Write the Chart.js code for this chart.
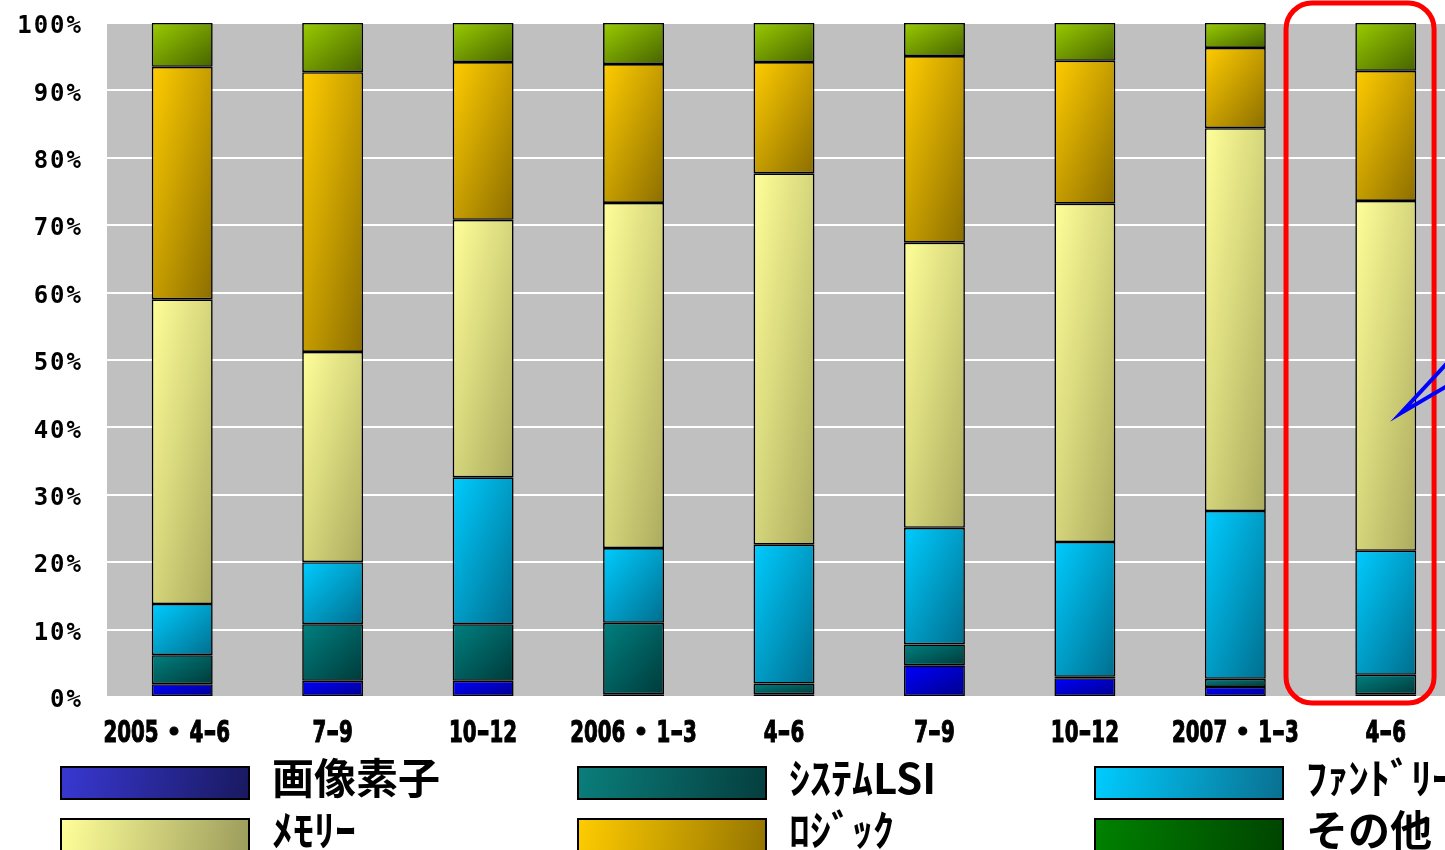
<!DOCTYPE html>
<html><head><meta charset="utf-8">
<script src="https://cdn.jsdelivr.net/npm/chart.js@4"></script>
<style>
html,body{margin:0;padding:0;background:#fff;overflow:hidden;width:1445px;height:850px}
#wrap{position:absolute;left:0;top:0;width:1470px;height:880px}
</style>
</head><body><div id="wrap"><canvas id="c" width="1470" height="880"></canvas></div>
<script>
// ---- data ----
const categories = ['2005・4-6　','7-9','10-12','2006・1-3','4-6','7-9','10-12','2007・1-3','4-6'];
const seriesNames = ['画像素子','ｼｽﾃﾑLSI','ﾌｧﾝﾄﾞﾘｰ','ﾒﾓﾘｰ','ﾛｼﾞｯｸ','その他'];
const imageSensor = [1.9, 2.4, 2.4, 0.4, 0.4, 4.7, 2.8, 1.5, 0.4];
const systemLSI   = [4.3, 8.4, 8.4, 10.6, 1.6, 3.1, 0.2, 1.2, 2.9];
const foundry     = [7.6, 9.2, 21.8, 11.1, 20.6, 17.3, 20.0, 24.9, 18.4];
const memory      = [45.2, 31.2, 38.2, 51.2, 55.1, 42.3, 50.2, 56.8, 51.9];
const logic       = [34.5, 41.5, 23.4, 20.6, 16.5, 27.7, 21.2, 11.9, 19.3];
const others      = [6.5, 7.3, 5.8, 6.1, 5.8, 4.9, 5.6, 3.7, 7.1];
const yTickValues = [0,10,20,30,40,50,60,70,80,90,100];

// ---- styles ----
const barColors = [
  ['#0000FF','#00008A'],
  ['#008080','#003A3A'],
  ['#00CCFF','#006E8E'],
  ['#FFFF99','#ABAB5E'],
  ['#FFCC00','#8C6E00'],
  ['#99CC00','#476300']
];
const legendColors = [
  ['#3838D2','#191960'],
  ['#0A7E7B','#053E3E'],
  ['#00CCFF','#0A7090'],
  ['#FFFF99','#9C9C5C'],
  ['#FFCC00','#957500'],
  ['#008200','#004400']
];
const BAR_FRAC = 0.405;

function segGradient(light, dark) {
  return (ctx) => {
    const chart = ctx.chart;
    const xs = chart.scales.x, ys = chart.scales.y;
    if (!xs || !ys || !chart.chartArea || ctx.type !== 'data') return light;
    const i = ctx.dataIndex, d = ctx.datasetIndex;
    let base = 0;
    for (let k = 0; k < d; k++) base += chart.data.datasets[k].data[i];
    const v = chart.data.datasets[d].data[i];
    const cx = xs.getPixelForValue(i);
    const w = (xs.getPixelForValue(1) - xs.getPixelForValue(0)) * BAR_FRAC;
    const x0 = cx - w / 2;
    const y0 = ys.getPixelForValue(base + v);
    const y1 = ys.getPixelForValue(base);
    const h = Math.max(1, y1 - y0);
    const L2 = w * w + h * h;
    const g = chart.ctx.createLinearGradient(x0, y0, x0 + 2 * w * h * h / L2, y0 + 2 * w * w * h / L2);
    g.addColorStop(0, light);
    g.addColorStop(1, dark);
    return g;
  };
}

const seriesData = [imageSensor, systemLSI, foundry, memory, logic, others];
const datasets = seriesNames.map((name, k) => ({
  label: name,
  data: seriesData[k],
  backgroundColor: segGradient(barColors[k][0], barColors[k][1]),
  borderColor: '#000000',
  borderWidth: 1.6,
  borderSkipped: false,
  categoryPercentage: 1,
  barPercentage: BAR_FRAC
}));

const bgPlugin = {
  id: 'bg',
  beforeDraw(chart) {
    const {ctx, chartArea: a} = chart;
    ctx.save();
    ctx.fillStyle = '#C0C0C0';
    ctx.fillRect(a.left, a.top, a.right - a.left, a.bottom - a.top);
    ctx.restore();
  }
};

const annoPlugin = {
  id: 'anno',
  afterDatasetsDraw(chart) {
    const {ctx, chartArea: a} = chart;
    const xs = chart.scales.x, ys = chart.scales.y;
    const last = categories.length - 1;
    const cx = xs.getPixelForValue(last);
    const step = xs.getPixelForValue(1) - xs.getPixelForValue(0);
    const l = cx - 0.663 * step, r = cx + 0.321 * step;
    const t = a.top - 20, b = a.bottom + 6;
    ctx.save();
    ctx.strokeStyle = '#FF0000';
    ctx.lineWidth = 5;
    ctx.beginPath();
    ctx.roundRect(l, t, r - l, b - t, 26);
    ctx.stroke();
    // callout pointer (from a balloon outside the picture)
    const vx = cx + 15, vy = ys.getPixelForValue(42.1);
    ctx.strokeStyle = '#0000FF';
    ctx.lineWidth = 4;
    ctx.lineJoin = 'miter';
    ctx.miterLimit = 20;
    ctx.beginPath();
    ctx.moveTo(vx + 85, vy - 92);
    ctx.lineTo(vx, vy);
    ctx.lineTo(vx + 85, vy - 50);
    ctx.stroke();
    ctx.restore();
  }
};

function isWide(ch) { return ch.charCodeAt(0) > 0x2000; }

function drawCondensed(ctx, text, cx, cy, sx) {
  // digits condensed, dash and full-width characters kept at full width
  const parts = [...text].map(ch => {
    const full = isWide(ch) || ch === '-';
    const w = ctx.measureText(ch).width * (full ? 1 : sx);
    return { ch, w, full };
  });
  const total = parts.reduce((s, p) => s + p.w, 0);
  let x = cx - total / 2;
  parts.forEach(p => {
    ctx.save();
    ctx.translate(x, cy);
    if (!p.full) ctx.scale(sx, 1);
    ctx.fillText(p.ch, 0, 0);
    ctx.strokeText(p.ch, 0, 0);
    ctx.restore();
    x += p.w;
  });
}

const labelPlugin = {
  id: 'labels',
  afterDraw(chart) {
    const ctx = chart.ctx;
    const xs = chart.scales.x, ys = chart.scales.y, a = chart.chartArea;
    ctx.save();
    ctx.fillStyle = '#000';
    ctx.strokeStyle = '#000';
    // y tick labels
    ctx.font = "bold 24px 'DejaVu Sans Mono'";
    ctx.letterSpacing = '2px';
    ctx.textAlign = 'right';
    ctx.textBaseline = 'middle';
    yTickValues.forEach(v => {
      ctx.fillText(v + '%', a.left - 24, ys.getPixelForValue(v) + 4);
    });
    ctx.letterSpacing = '0px';
    // x category labels (condensed)
    ctx.font = "bold 31px 'DejaVu Sans', 'Noto Sans CJK JP'";
    ctx.textAlign = 'left';
    ctx.textBaseline = 'middle';
    ctx.lineWidth = 1.2;
    categories.forEach((c, i) => {
      drawCondensed(ctx, c, xs.getPixelForValue(i), a.bottom + 37, 0.64);
    });
    ctx.restore();
  }
};

const legendPlugin = {
  id: 'customLegend',
  afterDraw(chart) {
    const ctx = chart.ctx;
    const colX = [61, 578, 1095];
    const rowY = [767, 819];
    const sw = 188, sh = 32;
    ctx.save();
    ctx.letterSpacing = '0px';
    seriesNames.forEach((name, k) => {
      const x = colX[k % 3], y = rowY[Math.floor(k / 3)];
      const g = ctx.createLinearGradient(x, y, x + sw, y + sh);
      g.addColorStop(0, legendColors[k][0]);
      g.addColorStop(1, legendColors[k][1]);
      ctx.fillStyle = g;
      ctx.fillRect(x, y, sw, sh);
      ctx.strokeStyle = '#000';
      ctx.lineWidth = 2;
      ctx.strokeRect(x, y, sw, sh);
      ctx.fillStyle = '#000';
      ctx.font = "bold 42px 'Noto Sans CJK JP'";
      ctx.textBaseline = 'middle';
      ctx.textAlign = 'left';
      ctx.fillText(name, x + sw + 23, y + sh / 2 - 5);
    });
    ctx.restore();
  }
};

new Chart(document.getElementById('c'), {
  type: 'bar',
  data: { labels: categories, datasets },
  options: {
    responsive: false,
    devicePixelRatio: 1,
    animation: false,
    layout: { padding: { top: 23, right: 9, bottom: 123, left: 0 } },
    plugins: { legend: { display: false }, tooltip: { enabled: false } },
    scales: {
      x: {
        stacked: true,
        grid: { display: false },
        border: { display: false },
        ticks: { display: false },
        afterFit(s) { s.height = 60; }
      },
      y: {
        stacked: true,
        min: 0, max: 100,
        afterBuildTicks(s) { s.ticks = yTickValues.map(v => ({ value: v })); },
        grid: { color: '#FFFFFF', lineWidth: 2, drawTicks: false },
        border: { display: false },
        ticks: { display: false },
        afterFit(s) { s.width = 107; }
      }
    }
  },
  plugins: [bgPlugin, annoPlugin, labelPlugin, legendPlugin]
});
</script>
</body></html>
